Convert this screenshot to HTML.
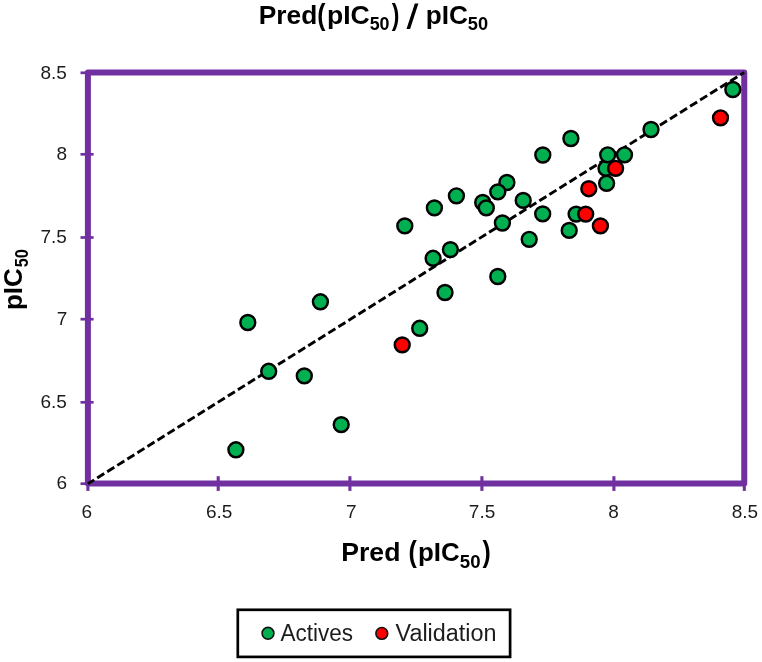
<!DOCTYPE html>
<html><head><meta charset="utf-8"><title>Pred(pIC50) / pIC50</title>
<style>html,body{margin:0;padding:0;background:#fff;}svg{display:block;filter:blur(0.4px);}text{font-family:"Liberation Sans",sans-serif;fill:#000;}.b{font-weight:bold;}.t{fill:#1c1c1c;}</style></head><body>
<svg width="762" height="662" viewBox="0 0 762 662">
<rect x="0" y="0" width="762" height="662" fill="#fff"/>
<line x1="87.9" y1="476.2" x2="87.9" y2="490.9" stroke="#7030A0" stroke-width="3.1"/>
<line x1="218.2" y1="476.2" x2="218.2" y2="490.9" stroke="#7030A0" stroke-width="3.1"/>
<line x1="349.9" y1="476.2" x2="349.9" y2="490.9" stroke="#7030A0" stroke-width="3.1"/>
<line x1="481.9" y1="476.2" x2="481.9" y2="490.9" stroke="#7030A0" stroke-width="3.1"/>
<line x1="613.9" y1="476.2" x2="613.9" y2="490.9" stroke="#7030A0" stroke-width="3.1"/>
<line x1="744.3" y1="476.2" x2="744.3" y2="490.9" stroke="#7030A0" stroke-width="3.1"/>
<line x1="80.5" y1="483.7" x2="93.6" y2="483.7" stroke="#7030A0" stroke-width="2.7"/>
<line x1="80.5" y1="402.3" x2="93.6" y2="402.3" stroke="#7030A0" stroke-width="2.7"/>
<line x1="80.5" y1="319.2" x2="93.6" y2="319.2" stroke="#7030A0" stroke-width="2.7"/>
<line x1="80.5" y1="237.5" x2="93.6" y2="237.5" stroke="#7030A0" stroke-width="2.7"/>
<line x1="80.5" y1="154.3" x2="93.6" y2="154.3" stroke="#7030A0" stroke-width="2.7"/>
<line x1="80.5" y1="72.8" x2="93.6" y2="72.8" stroke="#7030A0" stroke-width="2.7"/>
<rect x="87.9" y="72.4" width="656.35" height="411.10" fill="none" stroke="#7030A0" stroke-width="6" stroke-linejoin="round"/>
<line x1="87.9" y1="483.8" x2="744.25" y2="72.4" stroke="#000" stroke-width="2.9" stroke-dasharray="8.3 3.56" stroke-dashoffset="0.9"/>
<circle cx="235.9" cy="449.8" r="7.45" fill="#00B050" stroke="#000" stroke-width="2.45"/>
<circle cx="341.2" cy="424.6" r="7.45" fill="#00B050" stroke="#000" stroke-width="2.45"/>
<circle cx="268.7" cy="371.3" r="7.45" fill="#00B050" stroke="#000" stroke-width="2.45"/>
<circle cx="304.3" cy="375.9" r="7.45" fill="#00B050" stroke="#000" stroke-width="2.45"/>
<circle cx="247.8" cy="322.5" r="7.45" fill="#00B050" stroke="#000" stroke-width="2.45"/>
<circle cx="320.4" cy="301.8" r="7.45" fill="#00B050" stroke="#000" stroke-width="2.45"/>
<circle cx="419.7" cy="328.3" r="7.45" fill="#00B050" stroke="#000" stroke-width="2.45"/>
<circle cx="445.0" cy="292.5" r="7.45" fill="#00B050" stroke="#000" stroke-width="2.45"/>
<circle cx="433.1" cy="258.3" r="7.45" fill="#00B050" stroke="#000" stroke-width="2.45"/>
<circle cx="450.4" cy="249.6" r="7.45" fill="#00B050" stroke="#000" stroke-width="2.45"/>
<circle cx="497.8" cy="276.5" r="7.45" fill="#00B050" stroke="#000" stroke-width="2.45"/>
<circle cx="404.8" cy="225.9" r="7.45" fill="#00B050" stroke="#000" stroke-width="2.45"/>
<circle cx="434.4" cy="207.9" r="7.45" fill="#00B050" stroke="#000" stroke-width="2.45"/>
<circle cx="456.4" cy="195.8" r="7.45" fill="#00B050" stroke="#000" stroke-width="2.45"/>
<circle cx="482.7" cy="202.5" r="7.45" fill="#00B050" stroke="#000" stroke-width="2.45"/>
<circle cx="486.3" cy="207.9" r="7.45" fill="#00B050" stroke="#000" stroke-width="2.45"/>
<circle cx="506.9" cy="182.5" r="7.45" fill="#00B050" stroke="#000" stroke-width="2.45"/>
<circle cx="497.8" cy="191.9" r="7.45" fill="#00B050" stroke="#000" stroke-width="2.45"/>
<circle cx="523.2" cy="200.4" r="7.45" fill="#00B050" stroke="#000" stroke-width="2.45"/>
<circle cx="502.4" cy="223.0" r="7.45" fill="#00B050" stroke="#000" stroke-width="2.45"/>
<circle cx="529.2" cy="239.3" r="7.45" fill="#00B050" stroke="#000" stroke-width="2.45"/>
<circle cx="542.7" cy="213.9" r="7.45" fill="#00B050" stroke="#000" stroke-width="2.45"/>
<circle cx="542.8" cy="155.0" r="7.45" fill="#00B050" stroke="#000" stroke-width="2.45"/>
<circle cx="570.9" cy="138.5" r="7.45" fill="#00B050" stroke="#000" stroke-width="2.45"/>
<circle cx="569.2" cy="230.4" r="7.45" fill="#00B050" stroke="#000" stroke-width="2.45"/>
<circle cx="576.1" cy="214.1" r="7.45" fill="#00B050" stroke="#000" stroke-width="2.45"/>
<circle cx="606.0" cy="168.3" r="7.45" fill="#00B050" stroke="#000" stroke-width="2.45"/>
<circle cx="606.6" cy="183.3" r="7.45" fill="#00B050" stroke="#000" stroke-width="2.45"/>
<circle cx="607.7" cy="154.8" r="7.45" fill="#00B050" stroke="#000" stroke-width="2.45"/>
<circle cx="624.5" cy="154.8" r="7.45" fill="#00B050" stroke="#000" stroke-width="2.45"/>
<circle cx="651.0" cy="129.5" r="7.45" fill="#00B050" stroke="#000" stroke-width="2.45"/>
<circle cx="732.8" cy="89.5" r="7.45" fill="#00B050" stroke="#000" stroke-width="2.45"/>
<circle cx="402.2" cy="344.9" r="7.45" fill="#FF0000" stroke="#000" stroke-width="2.45"/>
<circle cx="588.8" cy="188.7" r="7.45" fill="#FF0000" stroke="#000" stroke-width="2.45"/>
<circle cx="615.6" cy="168.3" r="7.45" fill="#FF0000" stroke="#000" stroke-width="2.45"/>
<circle cx="585.7" cy="214.1" r="7.45" fill="#FF0000" stroke="#000" stroke-width="2.45"/>
<circle cx="600.4" cy="225.9" r="7.45" fill="#FF0000" stroke="#000" stroke-width="2.45"/>
<circle cx="720.5" cy="117.8" r="7.45" fill="#FF0000" stroke="#000" stroke-width="2.45"/>
<text class="b" x="258.73" y="24.20" font-size="26" textLength="58.51" lengthAdjust="spacingAndGlyphs">Pred</text>
<text class="b" x="317.36" y="25.00" font-size="30" textLength="8.24" lengthAdjust="spacingAndGlyphs">(</text>
<text class="b" x="327.01" y="24.20" font-size="26" textLength="42.80" lengthAdjust="spacingAndGlyphs">pIC</text>
<text class="b" x="369.70" y="29.90" font-size="18" textLength="19.87" lengthAdjust="spacingAndGlyphs">50</text>
<text class="b" x="391.80" y="25.00" font-size="30" textLength="7.65" lengthAdjust="spacingAndGlyphs">)</text>
<polygon points="406.5,29.1 410.1,29.1 418.4,3.4 414.8,3.4" fill="#000"/>
<text class="b" x="425.74" y="24.20" font-size="26" textLength="42.16" lengthAdjust="spacingAndGlyphs">pIC</text>
<text class="b" x="467.89" y="29.90" font-size="18" textLength="20.30" lengthAdjust="spacingAndGlyphs">50</text>
<text class="b" x="341.21" y="560.80" font-size="26" textLength="59.25" lengthAdjust="spacingAndGlyphs">Pred</text>
<text class="b" x="408.45" y="561.60" font-size="30" textLength="8.35" lengthAdjust="spacingAndGlyphs">(</text>
<text class="b" x="417.96" y="560.80" font-size="26" textLength="41.73" lengthAdjust="spacingAndGlyphs">pIC</text>
<text class="b" x="459.88" y="568.00" font-size="18" textLength="20.73" lengthAdjust="spacingAndGlyphs">50</text>
<text class="b" x="482.50" y="561.60" font-size="30" textLength="8.24" lengthAdjust="spacingAndGlyphs">)</text>
<g transform="translate(21.5,308.6) rotate(-90)">
<text class="b" x="-1.44" y="0.00" font-size="26" textLength="41.73" lengthAdjust="spacingAndGlyphs">pIC</text>
<text class="b" x="41.25" y="6.00" font-size="18" textLength="18.16" lengthAdjust="spacingAndGlyphs">50</text>
</g>
<text class="t" x="56.50" y="489.40" font-size="19">6</text>
<text class="t" x="40.50" y="408.00" font-size="19">6.5</text>
<text class="t" x="56.75" y="324.90" font-size="19">7</text>
<text class="t" x="40.50" y="243.20" font-size="19">7.5</text>
<text class="t" x="56.50" y="160.00" font-size="19">8</text>
<text class="t" x="40.50" y="78.50" font-size="19">8.5</text>
<text class="t" x="81.62" y="517.60" font-size="19">6</text>
<text class="t" x="205.88" y="517.60" font-size="19">6.5</text>
<text class="t" x="346.05" y="517.60" font-size="19">7</text>
<text class="t" x="468.82" y="517.60" font-size="19">7.5</text>
<text class="t" x="608.35" y="517.60" font-size="19">8</text>
<text class="t" x="731.75" y="517.60" font-size="19">8.5</text>
<rect x="237.8" y="609.8" width="272.3" height="47.1" fill="#fff" stroke="#000" stroke-width="2.7"/>
<circle cx="268" cy="633.3" r="5.9" fill="#00B050" stroke="#111" stroke-width="1.6"/>
<circle cx="381.8" cy="633.4" r="5.9" fill="#FF0000" stroke="#111" stroke-width="1.6"/>
<text class="t" x="280.50" y="640.50" font-size="23" textLength="72.47" lengthAdjust="spacingAndGlyphs">Actives</text>
<text class="t" x="395.55" y="640.50" font-size="23" textLength="100.94" lengthAdjust="spacingAndGlyphs">Validation</text>
</svg></body></html>
